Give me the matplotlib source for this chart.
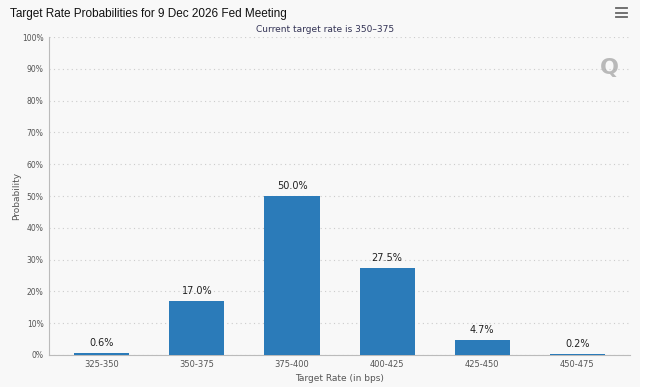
import matplotlib
matplotlib.use("Agg")
import matplotlib.pyplot as plt
from matplotlib.patches import Rectangle

categories = ["325-350", "350-375", "375-400", "400-425", "425-450", "450-475"]
probabilities = [0.6, 17.0, 50.0, 27.5, 4.7, 0.2]
y_ticks = [0, 10, 20, 30, 40, 50, 60, 70, 80, 90, 100]

bg = "#f8f8f8"
fig = plt.figure(figsize=(6.5, 3.87), dpi=100)
fig.patch.set_facecolor(bg)
fig.add_artist(Rectangle((640 / 650, 0), 10 / 650, 1, transform=fig.transFigure,
                         facecolor="#ffffff", edgecolor="none", zorder=0))
ax = fig.add_axes([0.0754, 0.083, 0.894, 0.821])
ax.set_facecolor(bg)

x = list(range(len(categories)))
ax.bar(x, probabilities, width=0.58, color="#2b7bb9", zorder=3)
for xi, v in zip(x, probabilities):
    ax.text(xi, v + 1.5, f"{v:.1f}%", ha="center", va="bottom",
            fontsize=7, color="#222222", family="DejaVu Sans")

ax.set_xlim(-0.555, len(categories) - 0.445)
ax.set_ylim(0, 100)
ax.set_yticks(y_ticks)
ax.set_yticklabels([f"{t}%" for t in y_ticks], fontsize=5.5, color="#555555")
ax.set_xticks(x)
ax.set_xticklabels(categories, fontsize=6, color="#555555")
ax.tick_params(axis="both", length=0, pad=4)
ax.grid(axis="y", linestyle=(0, (1, 3)), color="#cccccc", linewidth=0.8, zorder=0)

for s in ["top", "right"]:
    ax.spines[s].set_visible(False)
ax.spines["left"].set_color("#bbbbbb")
ax.spines["left"].set_linewidth(0.8)
ax.spines["bottom"].set_color("#bbbbbb")
ax.spines["bottom"].set_linewidth(0.8)

ax.set_xlabel("Target Rate (in bps)", fontsize=6.5, color="#555555", labelpad=3)
fig.text(17 / 650, 1 - 196 / 387, "Probability", fontsize=6.5, color="#555555",
         rotation=90, ha="center", va="center")

fig.text(0.015, 0.965, "Target Rate Probabilities for 9 Dec 2026 Fed Meeting",
         fontsize=8.5, family="Liberation Sans", color="#111111", va="center", ha="left")
fig.text(0.5, 0.925, "Current target rate is 350\u2013375", fontsize=6.5,
         color="#333355", ha="center", va="center")
# menu icon
for dy in (0.0, 0.012, 0.024):
    fig.add_artist(plt.Line2D([0.948, 0.965], [0.955 + dy, 0.955 + dy],
                              color="#666666", linewidth=1.3, transform=fig.transFigure))
# watermark Q
fig.text(0.938, 0.825, "Q", fontsize=16, fontweight="bold", color="#aaaaaa",
         ha="center", va="center", alpha=0.8)

fig.savefig("out.png", dpi=100, facecolor=fig.get_facecolor())
